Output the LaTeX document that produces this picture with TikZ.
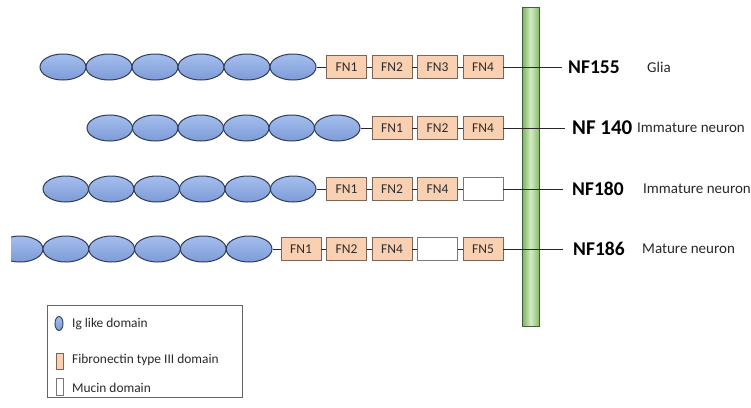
\documentclass[tikz,border=0pt]{standalone}
\usepackage{fontspec}
\setmainfont{Carlito}
\usetikzlibrary{shapes.geometric}
\definecolor{igtop}{RGB}{165,190,238}
\definecolor{igbot}{RGB}{125,155,215}
\definecolor{igline}{RGB}{45,60,85}
\definecolor{fnfill}{RGB}{250,208,178}
\definecolor{fnline}{RGB}{125,100,85}
\definecolor{fntext}{RGB}{45,45,45}
\definecolor{mucline}{RGB}{120,120,120}
\definecolor{linkc}{RGB}{40,40,40}
\definecolor{barleft}{RGB}{120,178,90}
\definecolor{barmid}{RGB}{212,236,198}
\definecolor{barright}{RGB}{135,188,105}
\definecolor{barline}{RGB}{70,92,60}
\definecolor{subtext}{RGB}{40,40,40}
\definecolor{legline}{RGB}{100,100,100}
\begin{document}
\begin{tikzpicture}[x=1pt,y=-1pt,
  igdom/.style={ellipse, draw=igline, line width=1pt, top color=igtop, bottom color=igbot,
    minimum width=46pt, minimum height=26pt, inner sep=0pt},
  fnbox/.style={rectangle, draw=fnline, line width=0.9pt, fill=fnfill,
    minimum width=40pt, minimum height=23pt, inner sep=0pt,
    font=\fontsize{13.5}{14}\selectfont, text=fntext},
  mucbox/.style={rectangle, draw=mucline, line width=0.9pt, fill=white,
    minimum width=40pt, minimum height=23pt, inner sep=0pt},
  link/.style={draw=linkc, line width=0.8pt},
  nflabel/.style={anchor=west, inner sep=0pt, font=\bfseries\fontsize{19.5}{20}\selectfont},
  celltype/.style={anchor=west, inner sep=0pt, font=\fontsize{15}{16}\selectfont, text=subtext},
  legtext/.style={anchor=west, inner sep=0pt, font=\fontsize{13.4}{14}\selectfont, text=subtext},
  membrane/.style={rectangle, draw=barline, line width=0.9pt, left color=barleft,
    right color=barright, middle color=barmid, shading angle=90,
    minimum width=17pt, minimum height=319pt, inner sep=0pt}
]
\useasboundingbox (0,0) rectangle (751,407);

% membrane
\node[membrane] (bar) at (530.5,166.5) {};

% ---------- Row 1 : NF155 ----------
\foreach \i in {1,...,6}
  \node[igdom, minimum width=46pt] (a\i) at ({63+(\i-1)*46},67) {};
\node[fnbox] (a-fn1) at (346.5,67) {FN1};
\node[fnbox] (a-fn2) at (392,67) {FN2};
\node[fnbox] (a-fn3) at (437.5,67) {FN3};
\node[fnbox] (a-fn4) at (483,67) {FN4};
\node[nflabel] (a-lab) at (568,67) {NF155};
\node[celltype] (a-cell) at (647,67) {Glia};
\draw[link] (a6.east) -- (a-fn1.west);
\draw[link] (a-fn1.east) -- (a-fn2.west);
\draw[link] (a-fn2.east) -- (a-fn3.west);
\draw[link] (a-fn3.east) -- (a-fn4.west);
\draw[link] (a-fn4.east) -- ([xshift=-6pt]a-lab.west);

% ---------- Row 2 : NF 140 ----------
\foreach \i in {1,...,6}
  \node[igdom, minimum width=45.5pt] (b\i) at ({109.75+(\i-1)*45.5},128) {};
\node[fnbox] (b-fn1) at (392,128) {FN1};
\node[fnbox] (b-fn2) at (437.5,128) {FN2};
\node[fnbox] (b-fn4) at (483,128) {FN4};
\node[nflabel, font=\bfseries\fontsize{21}{22}\selectfont] (b-lab) at (572,128) {NF 140};
\node[celltype] (b-cell) at (637,128) {Immature neuron};
\draw[link] (b6.east) -- (b-fn1.west);
\draw[link] (b-fn1.east) -- (b-fn2.west);
\draw[link] (b-fn2.east) -- (b-fn4.west);
\draw[link] (b-fn4.east) -- ([xshift=-7pt]b-lab.west);

% ---------- Row 3 : NF180 ----------
\foreach \i in {1,...,6}
  \node[igdom, minimum width=45.5pt] (c\i) at ({65.75+(\i-1)*45.5},189) {};
\node[fnbox] (c-fn1) at (346.5,189) {FN1};
\node[fnbox] (c-fn2) at (392,189) {FN2};
\node[fnbox] (c-fn4) at (437.5,189) {FN4};
\node[mucbox] (c-muc) at (483,189) {};
\node[nflabel] (c-lab) at (572,189) {NF180};
\node[celltype] (c-cell) at (643,189) {Immature neuron};
\draw[link] (c6.east) -- (c-fn1.west);
\draw[link] (c-fn1.east) -- (c-fn2.west);
\draw[link] (c-fn2.east) -- (c-fn4.west);
\draw[link] (c-fn4.east) -- (c-muc.west);
\draw[link] (c-muc.east) -- ([xshift=-9pt]c-lab.west);

% ---------- Row 4 : NF186 ----------
\begin{scope}
  \clip (11,220) rectangle (300,280);
  \foreach \i in {1,...,6}
    \node[igdom, minimum width=45.8pt] (d\i) at ({20.1+(\i-1)*45.8},249) {};
\end{scope}
\node[fnbox] (d-fn1) at (301,249) {FN1};
\node[fnbox] (d-fn2) at (346.5,249) {FN2};
\node[fnbox] (d-fn4) at (392,249) {FN4};
\node[mucbox] (d-muc) at (437.5,249) {};
\node[fnbox] (d-fn5) at (483,249) {FN5};
\node[nflabel] (d-lab) at (573,249) {NF186};
\node[celltype] (d-cell) at (642,249) {Mature neuron};
\draw[link] (d6.east) -- (d-fn1.west);
\draw[link] (d-fn1.east) -- (d-fn2.west);
\draw[link] (d-fn2.east) -- (d-fn4.west);
\draw[link] (d-fn4.east) -- (d-muc.west);
\draw[link] (d-muc.east) -- (d-fn5.west);
\draw[link] (d-fn5.east) -- ([xshift=-10pt]d-lab.west);

% ---------- Legend ----------
\node[draw=legline, line width=0.8pt, minimum width=195pt, minimum height=92pt,
      inner sep=0pt, anchor=north west] (legend) at (47,305) {};
\node[ellipse, draw=igline, line width=0.9pt, top color=igtop, bottom color=igbot,
      minimum width=8pt, minimum height=14pt, inner sep=0pt] (leg-ig) at (59,323.5) {};
\node[legtext] (leg-ig-t) at (72,324) {Ig like domain};
\node[rectangle, draw=fnline, line width=0.8pt, fill=fnfill,
      minimum width=7pt, minimum height=16pt, inner sep=0pt] (leg-fn) at (60,361) {};
\node[legtext] (leg-fn-t) at (72,360) {Fibronectin type III domain};
\node[rectangle, draw=mucline, line width=0.8pt, fill=white,
      minimum width=7pt, minimum height=17pt, inner sep=0pt] (leg-muc) at (60,387) {};
\node[legtext] (leg-muc-t) at (72,388) {Mucin domain};
\end{tikzpicture}
\end{document}
